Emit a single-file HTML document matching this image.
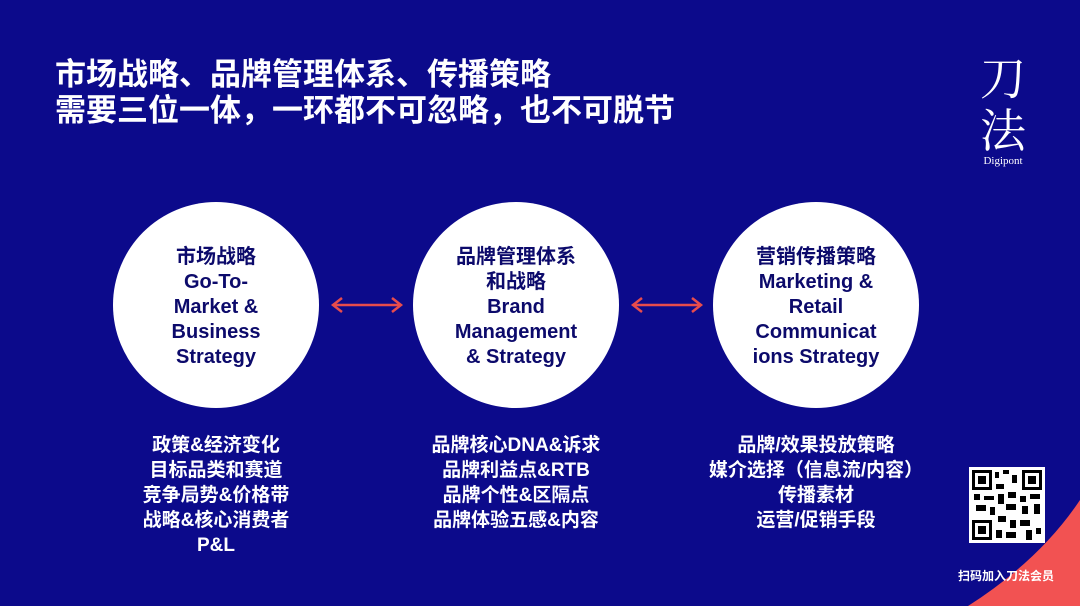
<!DOCTYPE html>
<html><head><meta charset="utf-8"><style>
body{margin:0;width:1080px;height:606px;overflow:hidden;background:#0c0a8b;font-family:"Liberation Sans","Noto Sans CJK SC",sans-serif;position:relative}
.t{position:absolute;left:55px;top:57px;color:#fff;font-size:31px;font-weight:bold;line-height:36px}
.c{position:absolute;width:206px;height:206px;border-radius:50%;background:#fff;top:202px;display:flex;align-items:center;justify-content:center;text-align:center;color:#0c0a6b;font-size:20px;line-height:25px;font-weight:bold}
.c div{margin-top:5px}
.l{position:absolute;top:433px;width:260px;text-align:center;color:#fff;font-size:19px;font-weight:bold;line-height:25px}
.logo{position:absolute;left:975px;top:50px;color:#fff;font-family:"Noto Serif CJK SC",serif;font-size:46px;line-height:52px;text-align:center;width:56px}
</style></head><body>
<svg style="position:absolute;left:0;top:0" width="1080" height="606">
<path d="M968 606 Q1040 560 1080 500 L1080 606 Z" fill="#f25252"/>
<g stroke="#e84c4c" stroke-width="2.5" fill="none">
<line x1="333" y1="305" x2="401" y2="305"/><polyline points="342,298 333,305 342,312"/><polyline points="392,298 401,305 392,312"/>
<line x1="633" y1="305" x2="701" y2="305"/><polyline points="642,298 633,305 642,312"/><polyline points="692,298 701,305 692,312"/>
</g>
<rect x="969" y="467" width="76" height="76" fill="#fff"/>
<g fill="#000">
<rect x="972" y="470" width="20" height="20"/><rect x="1022" y="470" width="20" height="20"/><rect x="972" y="520" width="20" height="20"/>
<rect x="995" y="472" width="4" height="6"/><rect x="1003" y="470" width="6" height="4"/><rect x="1012" y="475" width="5" height="8"/>
<rect x="996" y="484" width="8" height="5"/><rect x="974" y="494" width="6" height="6"/><rect x="984" y="496" width="10" height="4"/>
<rect x="998" y="494" width="6" height="10"/><rect x="1008" y="492" width="8" height="6"/><rect x="1020" y="496" width="6" height="6"/>
<rect x="1030" y="494" width="10" height="5"/><rect x="976" y="505" width="10" height="6"/><rect x="990" y="507" width="5" height="8"/>
<rect x="1006" y="504" width="10" height="6"/><rect x="1022" y="506" width="6" height="8"/><rect x="1034" y="504" width="6" height="10"/>
<rect x="998" y="516" width="8" height="6"/><rect x="1010" y="520" width="6" height="8"/><rect x="1020" y="520" width="10" height="6"/>
<rect x="996" y="530" width="6" height="8"/><rect x="1006" y="532" width="10" height="6"/><rect x="1026" y="530" width="6" height="10"/><rect x="1036" y="528" width="5" height="6"/>
</g>
<g fill="#fff"><rect x="975" y="473" width="14" height="14"/><rect x="1025" y="473" width="14" height="14"/><rect x="975" y="523" width="14" height="14"/></g>
<g fill="#000"><rect x="978" y="476" width="8" height="8"/><rect x="1028" y="476" width="8" height="8"/><rect x="978" y="526" width="8" height="8"/></g>
</svg>
<div class="t">市场战略、品牌管理体系、传播策略<br>需要三位一体，一环都不可忽略，也不可脱节</div>
<div class="logo">刀<br>法<div style="font-size:11px;line-height:14px;font-family:'Liberation Serif',serif;margin-top:0px">Digipont</div></div>
<div class="c" style="left:113px"><div>市场战略<br>Go-To-<br>Market &amp;<br>Business<br>Strategy</div></div>
<div class="c" style="left:413px"><div>品牌管理体系<br>和战略<br>Brand<br>Management<br>&amp; Strategy</div></div>
<div class="c" style="left:713px"><div>营销传播策略<br>Marketing &amp;<br>Retail<br>Communicat<br>ions Strategy</div></div>
<div class="l" style="left:86px">政策&amp;经济变化<br>目标品类和赛道<br>竞争局势&amp;价格带<br>战略&amp;核心消费者<br>P&amp;L</div>
<div class="l" style="left:386px">品牌核心DNA&amp;诉求<br>品牌利益点&amp;RTB<br>品牌个性&amp;区隔点<br>品牌体验五感&amp;内容</div>
<div class="l" style="left:680px;width:272px">品牌/效果投放策略<br>媒介选择（信息流/内容）<br>传播素材<br>运营/促销手段</div>
<div style="position:absolute;left:958px;top:567px;color:#fff;font-size:12px;font-weight:bold">扫码加入刀法会员</div>
</body></html>
